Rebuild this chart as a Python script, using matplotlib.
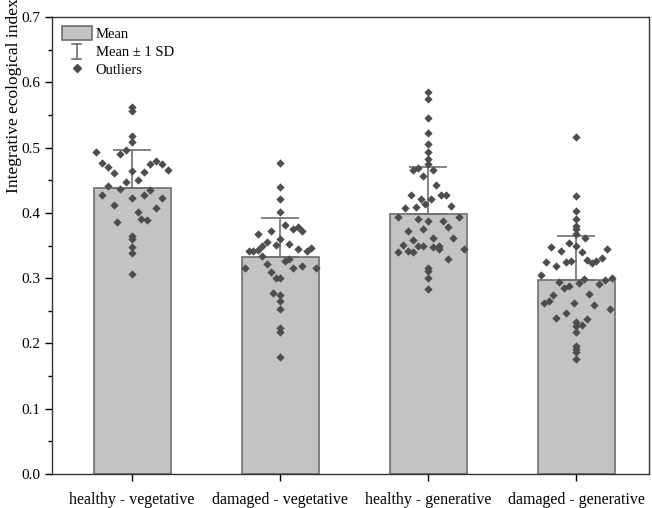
import numpy as np
import matplotlib
matplotlib.use("Agg")
import matplotlib.pyplot as plt
from matplotlib.patches import Patch
from matplotlib.lines import Line2D
from matplotlib.legend_handler import HandlerBase

plt.rcParams['font.family'] = ['Liberation Serif', 'DejaVu Serif']

groups = ["healthy - vegetative", "damaged - vegetative",
          "healthy - generative", "damaged - generative"]
means = [0.4385, 0.333, 0.3987, 0.2966]
sds = [0.058, 0.0586, 0.0715, 0.0674]

# individual values and their horizontal spread (in category units)
vals_hv = [0.562, 0.556, 0.518, 0.508, 0.494, 0.496, 0.490, 0.477, 0.471,
           0.475, 0.480, 0.475, 0.465, 0.461, 0.464, 0.462, 0.451, 0.448,
           0.441, 0.437, 0.435, 0.428, 0.423, 0.427, 0.423, 0.412, 0.407,
           0.401, 0.390, 0.389, 0.386, 0.365, 0.360, 0.347, 0.339, 0.307]
off_hv = [0, 0, 0, 0, -0.24, -0.04, -0.08, -0.20, -0.16,
          0.12, 0.16, 0.20, 0.24, -0.12, 0, 0.08, 0.04, -0.04,
          -0.16, -0.08, 0.12, -0.20, 0, 0.08, 0.20, -0.12, 0.16,
          0.04, 0.06, 0.10, -0.10, 0, 0, 0, 0, 0]

vals_dv = [0.476, 0.440, 0.422, 0.402, 0.382, 0.375, 0.378, 0.373, 0.372,
           0.367, 0.360, 0.356, 0.349, 0.351, 0.352, 0.344, 0.342, 0.346,
           0.342, 0.341, 0.343, 0.334, 0.327, 0.329, 0.321, 0.316, 0.316,
           0.319, 0.316, 0.310, 0.301, 0.301, 0.277, 0.274, 0.265, 0.252,
           0.223, 0.217, 0.180]
off_dv = [0, 0, 0, 0, 0.03, 0.09, 0.12, 0.15, -0.06,
          -0.15, 0, -0.09, -0.12, -0.03, 0.06, 0.12, 0.18, 0.21,
          -0.21, -0.18, -0.15, -0.12, 0.03, 0.06, -0.09, -0.24, 0.09,
          0.15, 0.24, -0.06, -0.03, 0, -0.045, 0, 0, 0,
          0, 0, 0]

vals_hg = [0.585, 0.575, 0.545, 0.523, 0.505, 0.494, 0.483, 0.475, 0.465,
           0.469, 0.465, 0.457, 0.442, 0.427, 0.427, 0.428, 0.422, 0.421,
           0.414, 0.407, 0.409, 0.410, 0.393, 0.391, 0.387, 0.387, 0.394,
           0.375, 0.378, 0.372, 0.362, 0.362, 0.359, 0.351, 0.349, 0.349,
           0.347, 0.349, 0.344, 0.340, 0.342, 0.340, 0.345, 0.329, 0.315,
           0.311, 0.301, 0.283]
off_hg = [0, 0, 0, 0, 0, 0, 0, 0, -0.105,
          -0.07, 0.035, -0.035, 0.05, -0.12, 0.085, 0.12, -0.05, 0.015,
          -0.02, -0.155, -0.085, 0.155, -0.205, -0.07, 0, 0.10, 0.205,
          -0.035, 0.135, -0.135, 0.035, 0.17, -0.105, -0.17, -0.07, -0.035,
          0.035, 0.07, 0.07, -0.205, -0.135, -0.105, 0.24, 0.135, 0,
          0, 0, 0]

vals_dg = [0.516, 0.426, 0.403, 0.391, 0.380, 0.375, 0.368, 0.361, 0.348,
           0.354, 0.342, 0.349, 0.340, 0.344, 0.331, 0.327, 0.323, 0.328,
           0.325, 0.327, 0.325, 0.318, 0.305, 0.294, 0.293, 0.298, 0.285,
           0.288, 0.291, 0.297, 0.301, 0.274, 0.276, 0.262, 0.265, 0.262,
           0.259, 0.253, 0.247, 0.239, 0.237, 0.233, 0.229, 0.226, 0.218,
           0.196, 0.191, 0.187, 0.176]
off_dg = [0, 0, 0, 0, 0, 0, 0, 0.055, -0.17,
          -0.05, -0.105, 0, 0.035, 0.205, 0.17, 0.135, 0.105, 0.07,
          -0.07, -0.035, -0.205, -0.135, -0.24, -0.115, 0.02, 0.05, -0.085,
          -0.05, 0.155, 0.19, 0.24, -0.155, 0.085, -0.22, -0.185, -0.015,
          0.12, 0.225, -0.07, -0.135, 0.07, 0, 0.035, 0, 0,
          0, 0, 0, 0]

points = [(vals_hv, off_hv), (vals_dv, off_dv), (vals_hg, off_hg), (vals_dg, off_dg)]

bar_color = '#c3c3c3'
edge_color = '#6e6e6e'
pt_color = '#4d4d4d'


class HandlerSD(HandlerBase):
    # draws an "I" shaped error bar symbol in the legend
    def create_artists(self, legend, orig_handle, xdescent, ydescent,
                       width, height, fontsize, trans):
        cx = width / 2 - xdescent
        y0 = -ydescent - 0.1 * height
        y1 = -ydescent + 1.0 * height
        hw = 0.15 * width
        kw = dict(color=edge_color, linewidth=1.2, transform=trans)
        return [Line2D([cx, cx], [y0, y1], **kw),
                Line2D([cx - hw, cx + hw], [y1, y1], **kw),
                Line2D([cx - hw, cx + hw], [y0, y0], **kw)]


fig = plt.figure(figsize=(6.52, 5.08), dpi=100)
ax = fig.add_axes([0.0798, 0.0669, 0.9156, 0.8996])

x = np.arange(len(groups))
ax.bar(x, means, width=0.52, color=bar_color, edgecolor=edge_color, linewidth=1.2, zorder=1)
ax.errorbar(x, means, yerr=[np.zeros(len(sds)), sds], fmt='none', ecolor=edge_color,
            elinewidth=1.2, capsize=13.5, capthick=1.2, zorder=2)

for i, (v, o) in enumerate(points):
    ax.scatter(i + np.array(o), v, marker='D', s=18, color=pt_color, linewidths=0, zorder=3)

ax.set_xlim(-0.54, 3.49)
ax.set_ylim(0, 0.7)
ax.set_xticks(x)
ax.set_xticklabels(groups, fontsize=11.5)
ax.set_yticks(np.arange(0, 0.71, 0.1))
ax.set_yticks(np.arange(0.05, 0.7, 0.1), minor=True)
ax.set_yticklabels([f"{t:.1f}" for t in np.arange(0, 0.71, 0.1)], fontsize=11)
ax.tick_params(axis='y', which='major', length=5, width=1, direction='out')
ax.tick_params(axis='y', which='minor', length=3, width=1, direction='out')
ax.tick_params(axis='x', length=5, width=1, direction='out', pad=8)
ax.set_ylabel("Integrative ecological index", fontsize=12.5, loc='top')
ax.yaxis.set_label_coords(-0.05, 1.04)
for sp in ax.spines.values():
    sp.set_linewidth(1.0)
    sp.set_color('#333333')

sd_proxy = Line2D([], [])
handles = [Patch(facecolor=bar_color, edgecolor=edge_color, linewidth=1.2),
           sd_proxy,
           Line2D([], [], marker='D', markersize=4.2, color=pt_color, linestyle='none')]
ax.legend(handles, ["Mean", "Mean \u00b1 1 SD", "Outliers"], loc='upper left',
          frameon=False, fontsize=10.5, handlelength=2.1, handleheight=1.05,
          handletextpad=0.25, labelspacing=0.2, borderaxespad=0.25,
          handler_map={sd_proxy: HandlerSD()})

fig.savefig("out.png", dpi=100)
